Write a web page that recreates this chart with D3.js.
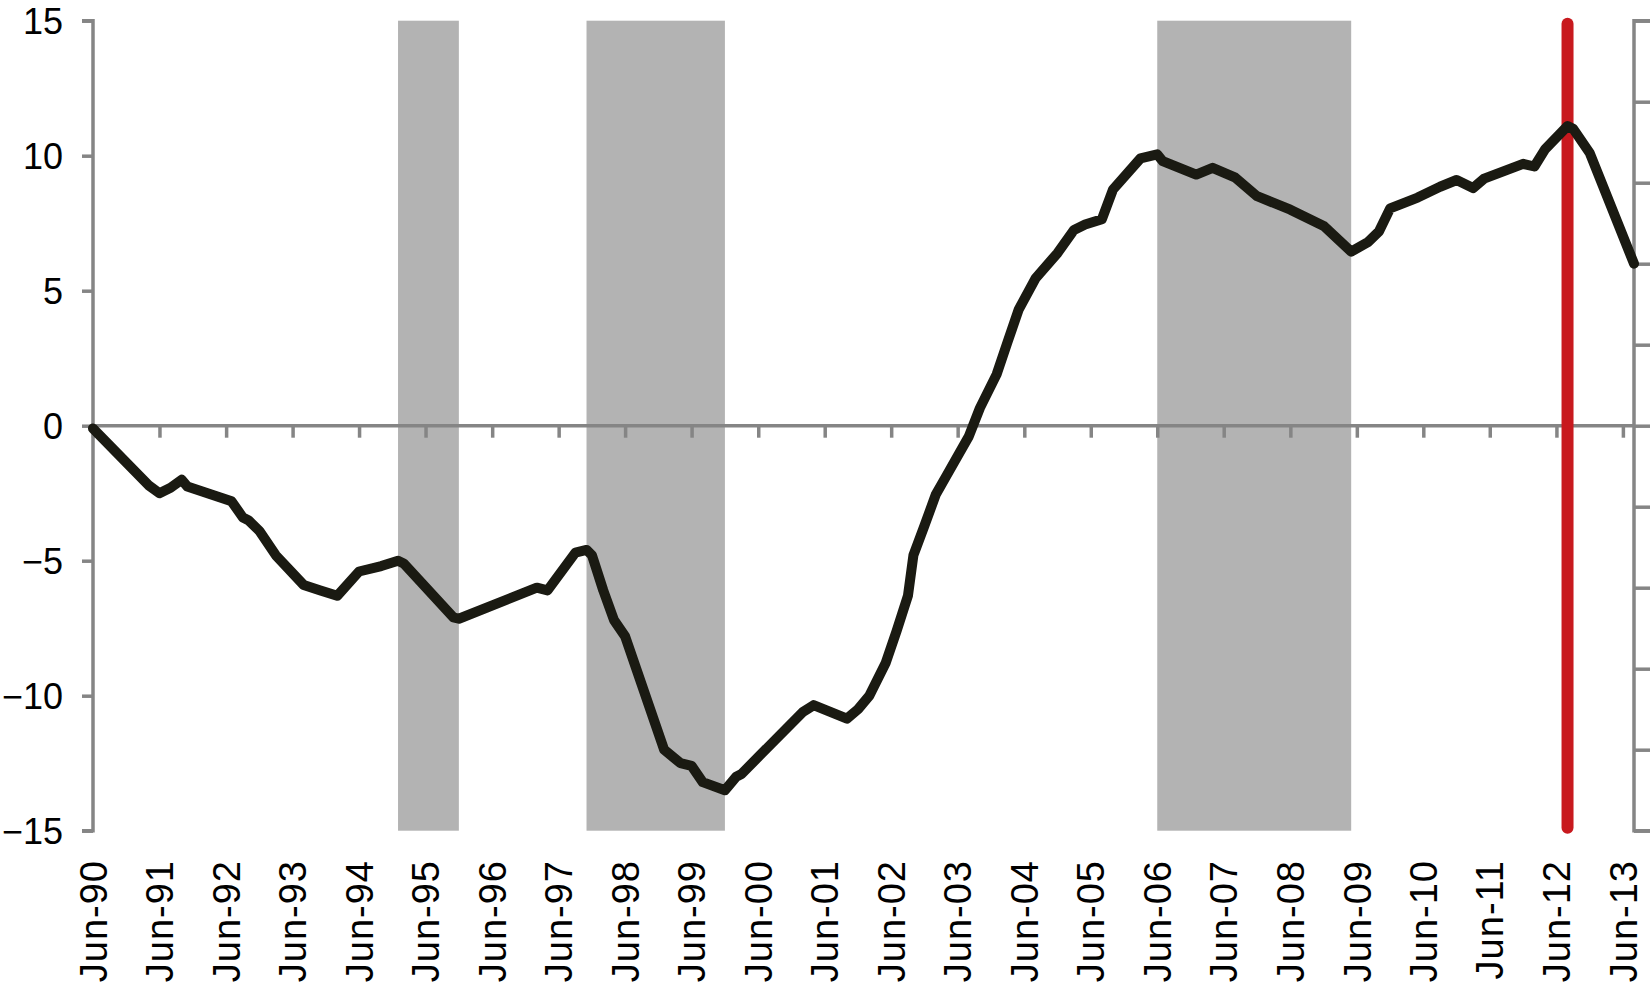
<!DOCTYPE html>
<html>
<head>
<meta charset="utf-8">
<script src="https://cdn.jsdelivr.net/npm/d3@7"></script>
<style>
  html, body { margin: 0; padding: 0; background: #ffffff; }
  svg { display: block; }
  text { font-family: "Liberation Sans", Arial, Helvetica, sans-serif; fill: #000; }
</style>
</head>
<body>
<svg id="chart" width="1650" height="987"></svg>
<script>
// ---- Data ----
const months = [
  "1990-06","1991-04","1991-06","1991-08","1991-10","1991-11","1992-07","1992-09","1992-10","1992-12",
  "1993-03","1993-08","1993-11","1994-02","1994-06","1994-10","1995-01","1995-02","1995-11","1995-12",
  "1997-02","1997-04","1997-09","1997-11","1997-12","1998-02","1998-04","1998-06","1999-01","1999-04",
  "1999-06","1999-08","1999-12","2000-02","2000-03","2001-02","2001-04","2001-10","2001-12","2002-02",
  "2002-05","2002-07","2002-09","2002-10","2002-12","2003-02","2003-04","2003-08","2003-10","2004-01",
  "2004-03","2004-05","2004-08","2004-12","2005-03","2005-05","2005-08","2005-10","2006-03","2006-06",
  "2006-07","2007-01","2007-04","2007-08","2007-12","2008-06","2008-12","2009-05","2009-08","2009-10",
  "2009-12","2010-05","2010-09","2010-12","2011-03","2011-05","2011-12","2012-02","2012-04","2012-08",
  "2012-09","2012-12","2013-08"
];
const values = [
  -0.1, -2.2, -2.5, -2.3, -2.0, -2.25, -2.8, -3.4, -3.5, -3.9,
  -4.8, -5.9, -6.1, -6.3, -5.4, -5.2, -5.0, -5.1, -7.1, -7.15,
  -6.0, -6.1, -4.7, -4.6, -4.8, -6.1, -7.2, -7.8, -12.0, -12.5,
  -12.6, -13.2, -13.5, -13.0, -12.9, -10.6, -10.35, -10.85, -10.5, -10.0,
  -8.8, -7.6, -6.3, -4.8, -3.7, -2.55, -1.85, -0.4, 0.65, 1.9,
  3.1, 4.3, 5.45, 6.4, 7.25, 7.45, 7.65, 8.75, 9.9, 10.05,
  9.8, 9.3, 9.55, 9.2, 8.5, 8.0, 7.4, 6.45, 6.8, 7.2,
  8.05, 8.45, 8.85, 9.1, 8.8, 9.15, 9.7, 9.6, 10.25, 11.1,
  11.0, 10.1, 6.0
];
// shaded periods
const bandStarts = ["1995-01", "1997-11", "2006-06"];
const bandEnds   = ["1995-12", "1999-12", "2009-05"];
// red marker
const markerMonth = "2012-08";
// axis domains and ticks
const xStart = "1990-06", xEnd = "2013-08";
const xTickMonths = ["1990-06","1991-06","1992-06","1993-06","1994-06","1995-06","1996-06","1997-06",
  "1998-06","1999-06","2000-06","2001-06","2002-06","2003-06","2004-06","2005-06","2006-06","2007-06",
  "2008-06","2009-06","2010-06","2011-06","2012-06","2013-06"];
const yTicks = [-15, -10, -5, 0, 5, 10, 15];
const rightTicks = [0, 1, 2, 3, 4, 5, 6, 7, 8, 9, 10];

// ---- Chart ----
(function () {
const parse = d3.timeParse("%Y-%m");
const fmt = d3.timeFormat("%b-%y");
const svg = d3.select("#chart");

const mLeft = 93, mRight = 1634, mTop = 20.7, mBottom = 830.7;
const x = d3.scaleTime().domain([parse(xStart), parse(xEnd)]).range([mLeft, mRight]);
const y = d3.scaleLinear().domain([-15, 15]).range([mBottom, mTop]);
const yR = d3.scaleLinear().domain([0, 10]).range([mBottom, mTop]);

const AX = "#858585";

// bands
svg.append("g").selectAll("rect")
  .data(bandStarts.map((s, i) => ({ s: parse(s), e: parse(bandEnds[i]) })))
  .join("rect")
  .attr("x", d => x(d.s))
  .attr("width", d => x(d.e) - x(d.s))
  .attr("y", y(15))
  .attr("height", y(-15) - y(15))
  .attr("fill", "#b3b3b3");

// left axis
const yAxis = svg.append("g")
  .attr("transform", `translate(${mLeft},0)`)
  .call(d3.axisLeft(y).tickValues(yTicks).tickSize(11).tickPadding(19)
    .tickFormat(d => d < 0 ? "\u2212" + Math.abs(d) : String(d)));
yAxis.select(".domain").attr("stroke", AX).attr("stroke-width", 3.5).attr("d", `M-11,${y(15)}H0V${y(-15)}H-11`);
yAxis.selectAll(".tick line").attr("stroke", AX).attr("stroke-width", 3.5);
yAxis.selectAll(".tick text").attr("font-size", 36).attr("dy", "0.35em").attr("fill", "#000");

// right axis
const rAxis = svg.append("g")
  .attr("transform", `translate(${mRight},0)`)
  .call(d3.axisRight(yR).tickValues(rightTicks).tickSize(16).tickFormat(""));
rAxis.select(".domain").attr("stroke", AX).attr("stroke-width", 3.5).attr("d", `M16,${yR(10)}H0V${yR(0)}H16`);
rAxis.selectAll(".tick line").attr("stroke", AX).attr("stroke-width", 3.5);

// x axis along zero line (ticks only)
const xAxis = svg.append("g")
  .attr("transform", `translate(0,${y(0)})`)
  .call(d3.axisBottom(x).tickValues(xTickMonths.map(parse)).tickSize(12).tickFormat(""));
xAxis.select(".domain").attr("stroke", AX).attr("stroke-width", 3.5).attr("d", `M${mLeft},0H${mRight}`);
xAxis.selectAll(".tick line").attr("stroke", AX).attr("stroke-width", 3.5);

// x labels at bottom (rotated)
svg.append("g").selectAll("text")
  .data(xTickMonths.map(parse))
  .join("text")
  .attr("transform", d => `translate(${x(d)},860) rotate(-90)`)
  .attr("text-anchor", "end")
  .attr("dy", "0.36em")
  .attr("font-size", 38)
  .attr("letter-spacing", 1)
  .text(d => fmt(d));

// red marker
svg.append("line")
  .attr("x1", x(parse(markerMonth))).attr("x2", x(parse(markerMonth)))
  .attr("y1", y(15) + 3).attr("y2", y(-15) - 3)
  .attr("stroke", "#c8191e").attr("stroke-width", 12).attr("stroke-linecap", "round");

// data line
const pts = months.map((m, i) => ({ d: parse(m), v: values[i] }));
svg.append("path")
  .datum(pts)
  .attr("fill", "none")
  .attr("stroke", "#1a1a12")
  .attr("stroke-width", 10)
  .attr("stroke-linejoin", "round")
  .attr("stroke-linecap", "round")
  .attr("d", d3.line().x(d => x(d.d)).y(d => y(d.v)));
})();
</script>
</body>
</html>
